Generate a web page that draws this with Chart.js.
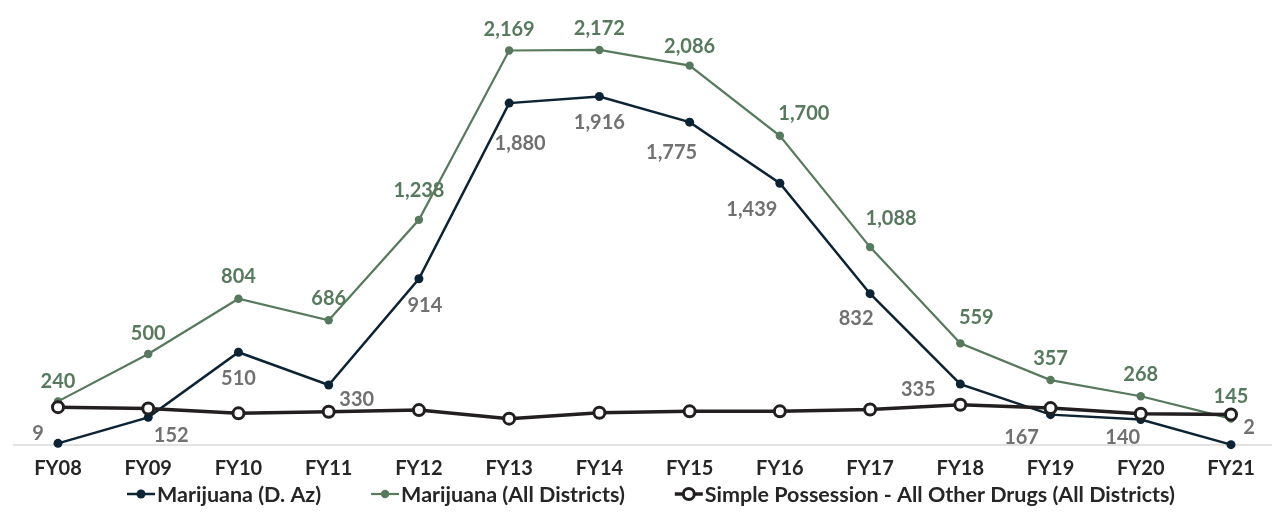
<!DOCTYPE html>
<html>
<head>
<meta charset="utf-8">
<script src="https://cdn.jsdelivr.net/npm/chart.js@4.4.1/dist/chart.umd.min.js"></script>
<style>
  html, body { margin: 0; padding: 0; background: #fff; overflow: hidden; }
  canvas { display: block; }
</style>
</head>
<body>
<canvas id="chart" width="1272" height="517"></canvas>
<script>
var years = ["FY08", "FY09", "FY10", "FY11", "FY12", "FY13", "FY14", "FY15", "FY16", "FY17", "FY18", "FY19", "FY20", "FY21"];
var azMarijuana = [9, 152, 510, 330, 914, 1880, 1916, 1775, 1439, 832, 335, 167, 140, 2];
var allMarijuana = [240, 500, 804, 686, 1238, 2169, 2172, 2086, 1700, 1088, 559, 357, 268, 145];
var otherDrugs = [208, 201, 174, 183, 192, 145, 177, 185, 185, 195, 221, 203, 172, 168];
var seriesNames = ["Marijuana (D. Az)", "Marijuana (All Districts)", "Simple Possession - All Other Drugs (All Districts)"];

var NAVY = "#0c2334";
var GREEN = "#57795d";
var BLACK = "#231f20";
var FONT = "Lato, 'Open Sans', sans-serif";

// where each value label sits relative to its point (x, y nudge in px)
var azNudge = [[-20, -11], [23, 17], [0, 25], [28, 14], [6, 26], [11, 39], [0, 25], [-18, 29], [-28, 25], [-14, 24], [-42, 4], [-29, 22], [-18, 17], [18, -18]];
var allNudge = [[0, -21], [0, -22], [0, -23], [0, -23], [0, -30], [0, -22], [0, -22], [0, -20], [24, -23], [21, -30], [16, -27], [0, -23], [0, -23], [0, -23]];

// light rule at zero running the full width, like the original
var baseRule = {
    id: "baseRule",
    beforeDatasetsDraw: function(chart) {
        var ctx = chart.ctx;
        var y = chart.scales.y.getPixelForValue(0);
        ctx.save();
        ctx.strokeStyle = "#d9d9d9";
        ctx.lineWidth = 1.5;
        ctx.beginPath();
        ctx.moveTo(13, y);
        ctx.lineTo(chart.width, y);
        ctx.stroke();
        ctx.restore();
    }
};

var valueLabels = {
    id: "valueLabels",
    afterDatasetsDraw: function(chart) {
        var ctx = chart.ctx;
        chart.data.datasets.forEach(function(ds, i) {
            if (!ds.labelNudge) return;
            var meta = chart.getDatasetMeta(i);
            ctx.save();
            ctx.font = "bold 20px " + FONT;
            ctx.fillStyle = ds.labelColor;
            ctx.textAlign = "center";
            ctx.textBaseline = "middle";
            meta.data.forEach(function(pt, j) {
                var n = ds.labelNudge[j];
                ctx.fillText(ds.data[j].toLocaleString("en-US"), pt.x + n[0], pt.y + n[1] + 1);
            });
            ctx.restore();
        });
    }
};

var lineLegend = {
    id: "lineLegend",
    afterDraw: function(chart) {
        var ctx = chart.ctx;
        var y = 494;
        var mark = 28, gap = 2, space = 50;
        ctx.save();
        ctx.font = "bold 21.5px " + FONT;
        var dss = chart.data.datasets;
        var total = 0;
        dss.forEach(function(ds, i) {
            total += mark + gap + ctx.measureText(ds.label).width + (i > 0 ? space : 0);
        });
        var x = 651 - total / 2;
        dss.forEach(function(ds) {
            ctx.strokeStyle = ds.borderColor;
            ctx.lineWidth = ds.borderWidth;
            ctx.beginPath();
            ctx.moveTo(x, y);
            ctx.lineTo(x + mark, y);
            ctx.stroke();
            ctx.beginPath();
            ctx.arc(x + mark / 2, y, ds.pointRadius, 0, Math.PI * 2);
            ctx.fillStyle = ds.pointBackgroundColor;
            ctx.fill();
            if (ds.pointBorderWidth) {
                ctx.lineWidth = ds.pointBorderWidth;
                ctx.strokeStyle = ds.pointBorderColor;
                ctx.stroke();
            }
            ctx.fillStyle = "#262626";
            ctx.textAlign = "left";
            ctx.textBaseline = "middle";
            ctx.fillText(ds.label, x + mark + gap, y + 1);
            x += mark + gap + ctx.measureText(ds.label).width + space;
        });
        ctx.restore();
    }
};

new Chart(document.getElementById("chart"), {
    type: "line",
    data: {
        labels: years,
        datasets: [
            {
                label: seriesNames[0],
                data: azMarijuana,
                borderColor: NAVY,
                borderWidth: 2.5,
                pointRadius: 4.5,
                pointBackgroundColor: NAVY,
                pointBorderColor: NAVY,
                pointBorderWidth: 0,
                clip: false,
                order: 1,
                labelNudge: azNudge,
                labelColor: "#717171"
            },
            {
                label: seriesNames[1],
                data: allMarijuana,
                borderColor: GREEN,
                borderWidth: 2.2,
                pointRadius: 4.2,
                pointBackgroundColor: GREEN,
                pointBorderColor: GREEN,
                pointBorderWidth: 0,
                clip: false,
                order: 2,
                labelNudge: allNudge,
                labelColor: GREEN
            },
            {
                label: seriesNames[2],
                data: otherDrugs,
                borderColor: BLACK,
                borderWidth: 3.5,
                pointRadius: 5.5,
                pointBackgroundColor: "#ffffff",
                pointBorderColor: BLACK,
                pointBorderWidth: 3,
                clip: false,
                order: 0
            }
        ]
    },
    options: {
        responsive: false,
        animation: false,
        layout: {padding: {left: 58, right: 41, top: 4, bottom: 32}},
        plugins: {
            legend: {display: false},
            tooltip: {enabled: false}
        },
        scales: {
            x: {
                offset: false,
                grid: {display: false},
                border: {display: false},
                ticks: {
                    color: "#262626",
                    padding: 4,
                    font: {family: FONT, size: 20, weight: "bold"}
                }
            },
            y: {display: false, min: 0, max: 2400}
        }
    },
    plugins: [baseRule, valueLabels, lineLegend]
});
</script>
</body>
</html>
